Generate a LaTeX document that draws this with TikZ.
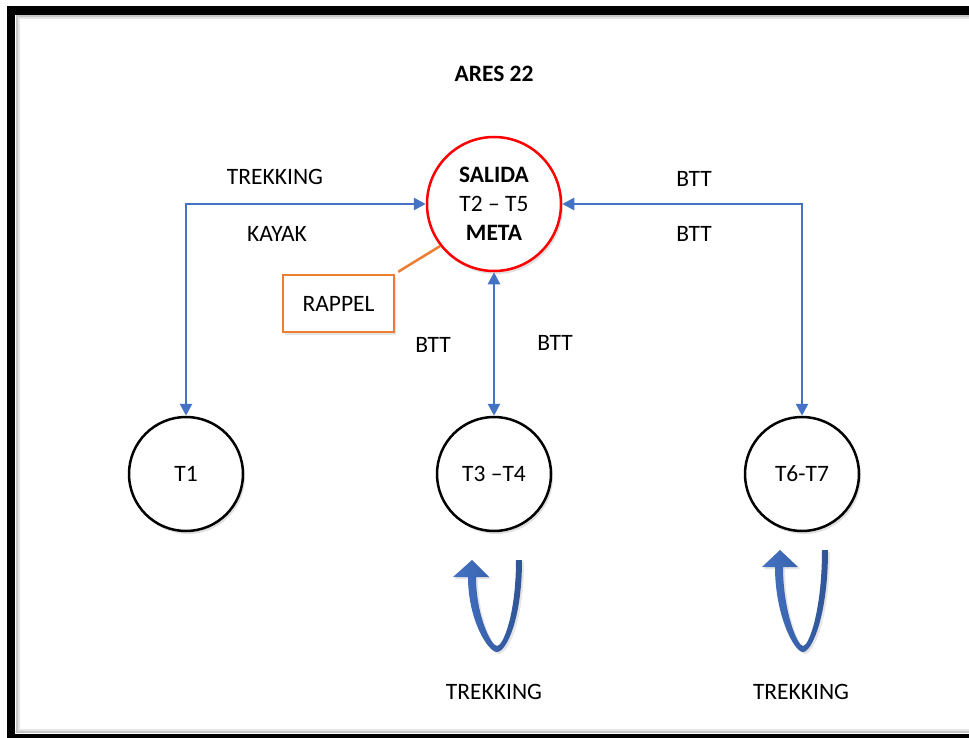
\documentclass[tikz,border=0pt]{standalone}
\usepackage{fontspec}
\setmainfont{Carlito}
\usetikzlibrary{arrows.meta,shadows}
\definecolor{myblue}{HTML}{4472C4}
\definecolor{mydarkblue}{HTML}{2F5597}
\definecolor{myorange}{HTML}{ED7D31}
\definecolor{myred}{HTML}{FF0000}
\begin{document}
\begin{tikzpicture}[x=1pt,y=-1pt,
  every node/.style={font=\fontsize{23.5}{29}\selectfont},
  lbl/.style={inner sep=0pt},
  stage/.style={circle,draw=black,line width=2.5pt,minimum size=114pt,inner sep=0pt,fill=white,
    drop shadow={shadow xshift=2pt,shadow yshift=-3pt,opacity=0.25,fill=gray}},
  hub/.style={circle,draw=myred,line width=2.5pt,minimum size=134pt,inner sep=0pt,fill=white,align=center,
    drop shadow={shadow xshift=2pt,shadow yshift=-3pt,opacity=0.25,fill=gray}},
  link/.style={draw=myblue,line width=2.7pt,{Triangle[length=12pt,width=12pt]}-{Triangle[length=12pt,width=12pt]}},
  uturn/.style={left color=myblue,right color=mydarkblue,draw=none,
    drop shadow={shadow xshift=2pt,shadow yshift=-2pt,opacity=0.2,fill=gray}},
  boxst/.style={draw=myorange,line width=2.5pt,minimum width=111pt,minimum height=57pt,inner sep=0pt,fill=white,
    drop shadow={shadow xshift=2pt,shadow yshift=-3pt,opacity=0.2,fill=gray}}
]
\useasboundingbox (0,0) rectangle (969,738);
\fill[white] (0,0) rectangle (969,738);
\begin{scope}
\clip (0,0) rectangle (969,738);
\draw[gray!45,line width=2pt] (16.5,16.5) rectangle (1000,732);
\draw[gray!20,line width=2pt] (18.5,18.5) rectangle (1000,730);
\draw[black,line width=8.5pt] (11,10.5) rectangle (1000,738);
\end{scope}

\node[lbl,font=\fontsize{23.5}{29}\selectfont\bfseries] (title) at (494,74) {ARES 22};

\node[hub] (salida) at (494,204) {\textbf{SALIDA}\\T2 -- T5\\\textbf{META}};
\node[stage] (t1) at (186,474) {T1};
\node[stage] (t3) at (494,474) {T3 --T4};
\node[stage] (t6) at (802,474) {T6-T7};

\node[boxst] (rappel) at (338.5,303.5) {RAPPEL};
\draw[myorange,line width=2.5pt] ([shift={(3,-2)}]rappel.north east) -- (salida.218);

\draw[link] (salida.west) -| (t1.north);
\draw[link] (salida.east) -| (t6.north);
\draw[link] (salida.south) -- (t3.north);

\node[lbl] (ltrek) at (275,177) {TREKKING};
\node[lbl] (lkayak) at (277,234) {KAYAK};
\node[lbl] (lbtt1) at (694,179) {BTT};
\node[lbl] (lbtt2) at (694,234) {BTT};
\node[lbl] (lbtt3) at (433,345) {BTT};
\node[lbl] (lbtt4) at (555,343) {BTT};

\path[uturn] (522,560) .. controls (522,620) and (506,652) .. (497,652)
  .. controls (488,652) and (468,620) .. (468,577) -- (453,577) -- (472,560) -- (489,577) -- (476,577)
  .. controls (476,615) and (491,646) .. (497,646) .. controls (503,646) and (516,615) .. (516,560) -- cycle;
\path[uturn] (828,550) .. controls (828,615) and (812,652) .. (803,652)
  .. controls (794,652) and (775,615) .. (775,567) -- (762,567) -- (780,550) -- (798,567) -- (783,567)
  .. controls (783,610) and (797,646) .. (803,646) .. controls (809,646) and (822,610) .. (822,550) -- cycle;

\node[lbl] (ltrek3) at (494,692) {TREKKING};
\node[lbl] (ltrek6) at (801,692) {TREKKING};
\end{tikzpicture}
\end{document}
